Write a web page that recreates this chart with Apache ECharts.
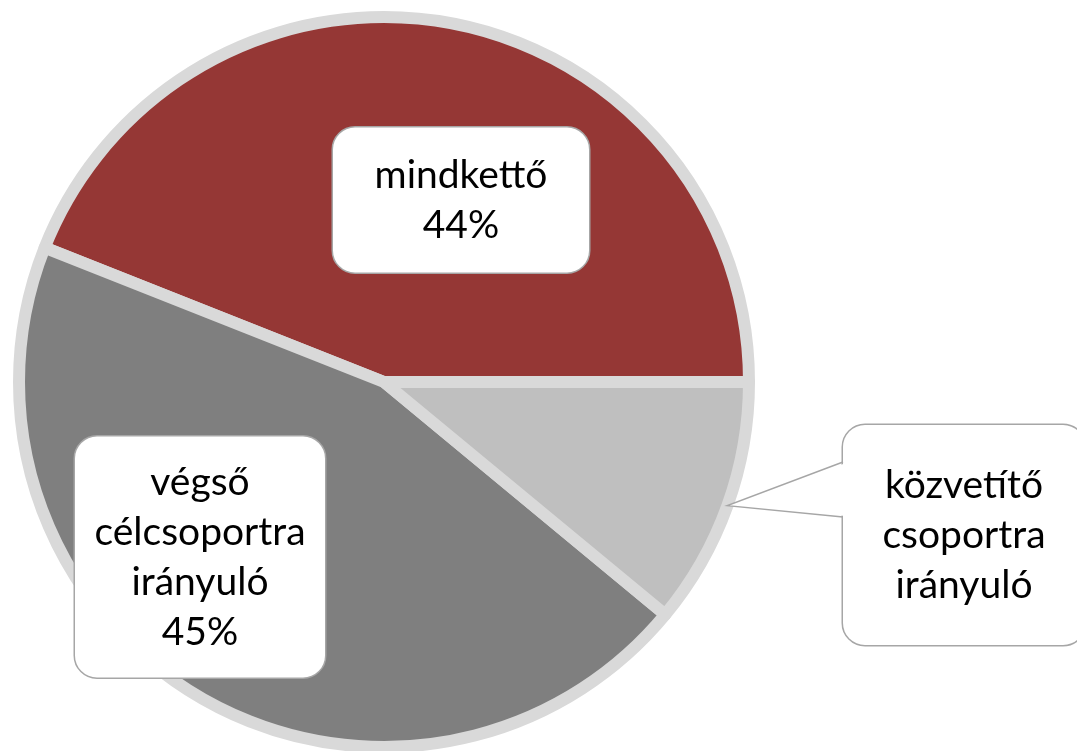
<!DOCTYPE html>
<html>
<head>
<meta charset="UTF-8">
<title>Kör diagram</title>
<script src="https://cdn.jsdelivr.net/npm/echarts@6/dist/echarts.min.js"></script>
<style>
  html, body { margin: 0; padding: 0; background: #fff; }
  #chart { width: 1077px; height: 751px; }
</style>
</head>
<body>
<div id="chart"></div>
<script type="text/javascript">
// adatok
var categories = ['mindkettő', 'végső célcsoportra irányuló', 'közvetítő csoportra irányuló'];
var values = [44, 45, 11];
var showPercent = [true, true, false];
var colors = ['#953735', '#7f7f7f', '#bfbfbf'];

// címkedobozok helye és mérete (középpont, szélesség, magasság)
var boxes = [
    { cx: 461, cy: 200, w: 256, h: 145 },
    { cx: 200, cy: 557, w: 250, h: 241 },
    { cx: 964, cy: 535, w: 242, h: 220 }
];
var lineH = 50;

var center = [384, 382];
var radius = 365;

var chart = echarts.init(document.getElementById('chart'));

var data = categories.map(function (name, i) {
    var nLines = name.split(' ').length + (showPercent[i] ? 1 : 0);
    var b = boxes[i];
    var padV = (b.h - nLines * lineH) / 2;
    return {
        name: name,
        value: values[i],
        itemStyle: { color: colors[i] },
        label: {
            width: b.w,
            padding: [padV, 0, padV, 0]
        }
    };
});

var option = {
    animation: false,
    series: [{
        type: 'pie',
        center: center,
        radius: radius,
        startAngle: 0,
        clockwise: false,
        silent: true,
        itemStyle: {
            borderColor: '#d9d9d9',
            borderWidth: 12
        },
        label: {
            show: true,
            position: 'inside',
            fontFamily: 'Lato',
            fontSize: 39,
            lineHeight: lineH,
            color: '#000',
            align: 'center',
            backgroundColor: '#fff',
            borderColor: '#a6a6a6',
            borderWidth: 1.5,
            borderRadius: 22,
            formatter: function (p) {
                var t = p.name.split(' ').join('\n');
                if (showPercent[p.dataIndex]) t += '\n' + Math.round(p.percent) + '%';
                return t;
            }
        },
        labelLine: { show: false },
        labelLayout: function (p) {
            var b = boxes[p.dataIndex];
            return { x: b.cx, y: b.cy, align: 'center', verticalAlign: 'middle' };
        },
        data: data
    }]
};

chart.setOption(option);

// a "közvetítő" címke mutatója: a szelet középszögén lévő pontra mutat
var total = values.reduce(function (a, b) { return a + b; }, 0);
var acc = values[0] + values[1];
var midFrac = (acc + values[2] / 2) / total;
var ang = midFrac * 2 * Math.PI;   // óramutatóval ellentétesen, 0 = jobbra
var tip = [center[0] + radius * Math.cos(ang), center[1] - radius * Math.sin(ang)];
var bx = boxes[2].cx - boxes[2].w / 2;
var p1 = [bx, 462], p2 = [bx, 517];

chart.setOption({
    graphic: [{
        type: 'polygon',
        z: 100,
        shape: { points: [[bx + 3, p1[1] + 1], tip, [bx + 3, p2[1] - 1]] },
        style: { fill: '#fff', stroke: null }
    }, {
        type: 'polyline',
        z: 101,
        shape: { points: [p1, tip, p2] },
        style: { stroke: '#a6a6a6', lineWidth: 1.5, fill: null }
    }]
});
</script>
</body>
</html>
